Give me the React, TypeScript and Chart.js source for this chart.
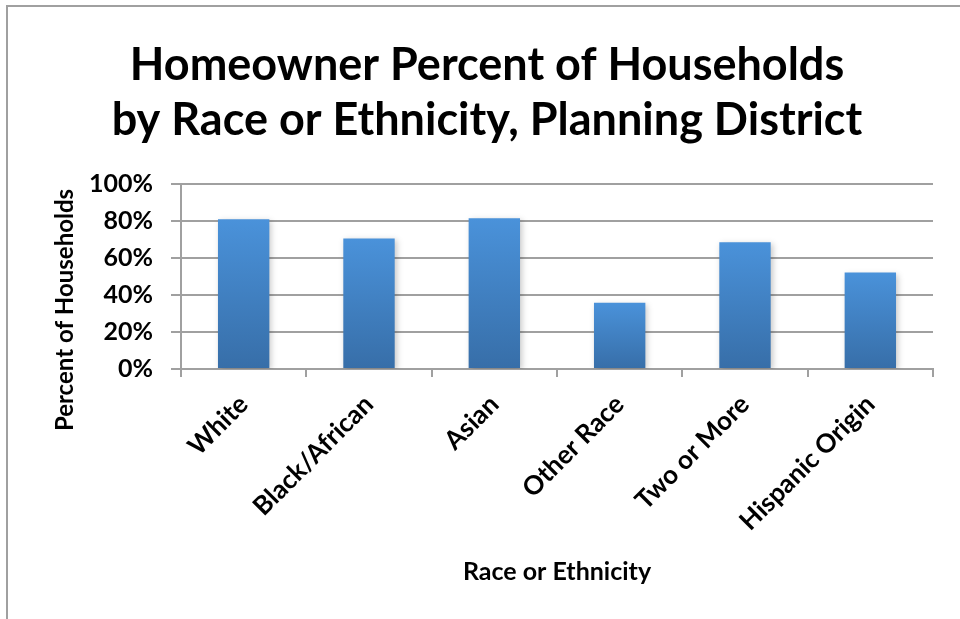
import React, { useEffect, useRef } from "react";
import { Chart, registerables } from "chart.js";

Chart.register(...registerables);

const categories = ["White", "Black/African", "Asian", "Other Race", "Two or More", "Hispanic Origin"];
const homeownerPercent = [80.8, 70.5, 81.4, 35.8, 68.4, 52.1];
const titleLines = ["Homeowner Percent of Households", "by Race or Ethnicity, Planning District"];
const yAxisTitle = "Percent of Households";
const xAxisTitle = "Race or Ethnicity";
const yTickMax = 100;
const yTickStep = 20;

const FONT = "Lato";
const GRID = "#a0a0a0";

export default function App() {
  const ref = useRef<HTMLCanvasElement | null>(null);

  useEffect(() => {
    if (!ref.current) return;

    const shadowPlugin = {
      id: "barShadow",
      beforeDatasetsDraw(chart: any) {
        const ctx = chart.ctx;
        ctx.save();
        ctx.shadowColor = "rgba(0,0,0,0.22)";
        ctx.shadowBlur = 6;
        ctx.shadowOffsetX = 2;
        ctx.shadowOffsetY = 2;
      },
      afterDatasetsDraw(chart: any) {
        chart.ctx.restore();
      },
    };

    const yTitlePlugin = {
      id: "yTitle",
      afterDraw(chart: any) {
        const ctx = chart.ctx;
        ctx.save();
        ctx.translate(65, 310);
        ctx.rotate(-Math.PI / 2);
        ctx.font = `bold 24px ${FONT}`;
        ctx.fillStyle = "#000";
        ctx.textAlign = "center";
        ctx.textBaseline = "middle";
        ctx.fillText(yAxisTitle, 0, 0);
        ctx.restore();
      },
    };

    const chart = new Chart(ref.current, {
      type: "bar",
      data: {
        labels: categories,
        datasets: [
          {
            data: homeownerPercent,
            backgroundColor: (c: any) => {
              const chartObj = c.chart;
              const area = chartObj.chartArea;
              const ys = chartObj.scales?.y;
              if (!area || !ys || c.parsed == null) return "#4283c8";
              const top = ys.getPixelForValue(c.parsed.y);
              const bottom = ys.getPixelForValue(0);
              if (!isFinite(top) || !isFinite(bottom) || bottom - top < 1) return "#4283c8";
              const g = chartObj.ctx.createLinearGradient(0, top, 0, bottom);
              g.addColorStop(0, "#4a92da");
              g.addColorStop(1, "#376ea8");
              return g;
            },
            borderWidth: 0,
            barPercentage: 0.41,
            categoryPercentage: 1,
          },
        ],
      },
      options: {
        responsive: false,
        animation: false,
        devicePixelRatio: 1,
        layout: { padding: { left: 41, right: 27, top: 0, bottom: 0 } },
        plugins: {
          legend: { display: false },
          tooltip: { enabled: false },
          title: {
            display: true,
            text: titleLines,
            color: "#000",
            font: { family: FONT, size: 45, weight: "bold", lineHeight: 1.22 },
            padding: { top: 38, bottom: 36 },
          },
        },
        scales: {
          x: {
            offset: true,
            grid: {
              offset: true,
              drawOnChartArea: false,
              drawTicks: true,
              tickLength: 8,
              color: GRID,
              lineWidth: 2,
            },
            border: { display: true, color: GRID, width: 2 },
            ticks: {
              autoSkip: false,
              maxRotation: 45,
              minRotation: 45,
              padding: 12,
              color: "#000",
              font: { family: FONT, size: 26, weight: "bold" },
            },
            title: {
              display: true,
              text: xAxisTitle,
              color: "#000",
              font: { family: FONT, size: 25, weight: "bold" },
              padding: { top: 0, bottom: 32 },
            },
            afterFit(scale: any) {
              scale.height = 250;
            },
          },
          y: {
            min: 0,
            max: yTickMax,
            ticks: {
              stepSize: yTickStep,
              padding: 18,
              color: "#000",
              font: { family: FONT, size: 25, weight: "bold" },
              callback: (v: any) => `${v}%`,
            },
            grid: {
              color: GRID,
              lineWidth: 2,
              drawTicks: true,
              tickLength: 10,
            },
            border: { display: true, color: GRID, width: 2 },
            afterFit(scale: any) {
              scale.width = 140;
            },
          },
        },
      },
      plugins: [shadowPlugin, yTitlePlugin],
    });

    return () => chart.destroy();
  }, []);

  return (
    <div style={{ position: "fixed", left: 0, top: 0, width: 960, height: 619, background: "#fff", overflow: "hidden" }}>
      <div
        style={{
          position: "absolute",
          left: 6,
          top: 5,
          width: 1000,
          height: 700,
          border: `2px solid ${GRID}`,
          boxSizing: "border-box",
        }}
      />
      <canvas ref={ref} width={960} height={619} style={{ position: "absolute", left: 0, top: 0, width: 960, height: 619 }} />
    </div>
  );
}
